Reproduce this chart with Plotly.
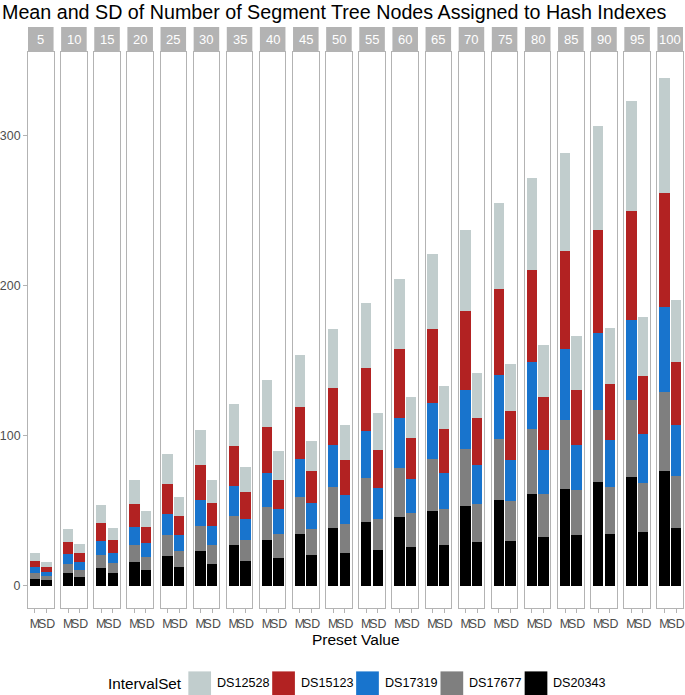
import plotly.graph_objects as go
from plotly.subplots import make_subplots

# ---------------- data ----------------
presets = [5, 10, 15, 20, 25, 30, 35, 40, 45, 50, 55, 60, 65, 70, 75, 80, 85, 90, 95, 100]
stats = ["M", "SD"]
series_bottom_to_top = ["DS20343", "DS17677", "DS17319", "DS15123", "DS12528"]
legend_order = ["DS12528", "DS15123", "DS17319", "DS17677", "DS20343"]

mean_DS20343 = [4.7, 8.4, 12.0, 15.8, 19.7, 23.3, 27.1, 30.7, 34.8, 38.6, 42.3, 46.1, 49.9, 53.3, 57.2, 61.4, 64.8, 69.0, 72.7, 76.2]
mean_DS17677 = [3.5, 6.0, 8.6, 11.3, 13.8, 16.8, 19.4, 21.8, 24.2, 27.1, 29.7, 32.3, 34.6, 37.8, 40.6, 43.1, 45.8, 48.5, 51.2, 53.3]
mean_DS17319 = [4.0, 6.4, 9.3, 11.9, 14.6, 17.1, 20.1, 22.7, 25.3, 28.1, 31.3, 33.5, 37.1, 39.4, 42.5, 44.7, 47.5, 50.9, 53.3, 56.3]
mean_DS15123 = [4.4, 8.5, 12.0, 15.6, 19.8, 23.1, 26.9, 30.8, 34.6, 38.2, 42.2, 45.9, 49.4, 52.9, 57.4, 61.5, 64.9, 68.6, 72.6, 76.1]
mean_DS12528 = [4.9, 8.4, 12.2, 15.9, 19.7, 23.5, 27.4, 30.9, 35.1, 39.0, 42.8, 46.5, 50.2, 53.9, 57.7, 61.5, 65.4, 69.4, 73.3, 76.7]

sd_DS20343 = [3.5, 6.0, 8.4, 10.4, 12.4, 14.6, 16.3, 18.6, 20.2, 22.0, 23.7, 25.9, 27.1, 29.1, 30.1, 32.6, 34.1, 34.8, 36.1, 38.8]
sd_DS17677 = [2.7, 4.6, 6.9, 8.9, 10.4, 12.7, 14.2, 16.2, 17.3, 19.3, 20.9, 22.6, 23.9, 25.6, 26.6, 28.8, 29.5, 31.0, 32.4, 34.1]
sd_DS17319 = [2.7, 5.2, 6.7, 9.1, 10.9, 12.6, 14.2, 16.3, 17.7, 19.2, 20.8, 22.6, 24.4, 25.6, 26.8, 29.3, 30.3, 31.3, 32.5, 34.2]
sd_DS15123 = [3.5, 5.9, 8.4, 10.9, 13.1, 15.1, 17.5, 19.4, 21.1, 23.3, 25.3, 27.5, 29.1, 31.3, 32.7, 35.1, 36.8, 37.4, 39.1, 42.1]
sd_DS12528 = [3.4, 6.0, 8.2, 10.4, 12.4, 15.3, 17.2, 19.5, 20.5, 23.3, 24.8, 27.3, 28.8, 30.5, 31.8, 34.5, 35.7, 37.1, 38.9, 41.1]

y_ticks = [0, 100, 200, 300]

mean_values = {"DS20343": mean_DS20343, "DS17677": mean_DS17677, "DS17319": mean_DS17319,
               "DS15123": mean_DS15123, "DS12528": mean_DS12528}
sd_values = {"DS20343": sd_DS20343, "DS17677": sd_DS17677, "DS17319": sd_DS17319,
             "DS15123": sd_DS15123, "DS12528": sd_DS12528}
colors = {"DS12528": "#C1CDCD", "DS15123": "#B22222", "DS17319": "#1874CD",
          "DS17677": "#7F7F7F", "DS20343": "#000000"}

# ---------------- layout geometry ----------------
W, H = 685, 695
ML, MR, MT, MB = 27.3, 0, 52.3, 86.7
PW = W - ML - MR
PH = H - MT - MB
FONT = "Liberation Sans, Arial, Helvetica, sans-serif"
GREY70 = "#B3B3B3"
GREY30 = "#4D4D4D"

n = len(presets)
gap_px = 7.6
fig = make_subplots(rows=1, cols=n, shared_yaxes=True, horizontal_spacing=gap_px / PW)

for i in range(n):
    for s in series_bottom_to_top:
        fig.add_trace(
            go.Bar(
                x=stats,
                y=[mean_values[s][i], sd_values[s][i]],
                name=s,
                legendgroup=s,
                showlegend=False,
                width=0.9,
                marker=dict(color=colors[s], line=dict(width=0)),
            ),
            row=1, col=i + 1,
        )

fig.update_layout(
    barmode="stack",
    width=W, height=H, autosize=False,
    margin=dict(l=ML, r=MR, t=MT, b=MB, pad=0),
    paper_bgcolor="white", plot_bgcolor="white",
    font=dict(family=FONT, color="black"),
    showlegend=False,
    title=dict(text="Mean and SD of Number of Segment Tree Nodes Assigned to Hash Indexes",
               x=2 / W, xanchor="left", xref="container",
               y=1 - 12 / H, yanchor="middle", yref="container",
               font=dict(size=19.7, color="black", family=FONT)),
)

fig.update_xaxes(
    type="category", range=[-0.6, 1.6],
    tickmode="array", tickvals=stats, ticktext=stats, tickangle=0,
    showline=True, mirror=True, linecolor=GREY70, linewidth=1,
    showgrid=False, zeroline=False,
    ticks="outside", ticklen=4, tickwidth=1, tickcolor=GREY70,
    tickfont=dict(size=12.4, color=GREY30, family=FONT),
    fixedrange=True,
)
fig.update_yaxes(
    range=[-14.9, 356],
    showline=True, mirror=True, linecolor=GREY70, linewidth=1,
    showgrid=False, zeroline=False,
    ticks="", tickmode="array", tickvals=y_ticks,
    tickfont=dict(size=12.4, color=GREY30, family=FONT),
    fixedrange=True,
)
fig.update_yaxes(ticks="outside", ticklen=4, tickwidth=1, tickcolor=GREY70, row=1, col=1)

# facet strips
strip_h = 25.0 / PH
shapes = []
annotations = []
for i, p in enumerate(presets):
    xr = "x domain" if i == 0 else f"x{i + 1} domain"
    shapes.append(dict(type="rect", xref=xr, yref="paper", x0=0, x1=1, y0=1, y1=1 + strip_h,
                       fillcolor=GREY70, line=dict(width=0), layer="above"))
    annotations.append(dict(xref=xr, yref="paper", x=0.5, y=1 + strip_h / 2, text=str(p),
                            showarrow=False, xanchor="center", yanchor="middle",
                            font=dict(size=13, color="white", family=FONT)))

def px_x(px):
    return (px - ML) / PW

def px_y(py):
    return (H - MB - py) / PH

# x axis title
annotations.append(dict(xref="paper", yref="paper", x=0.5, y=px_y(640), text="Preset Value",
                        showarrow=False, xanchor="center", yanchor="middle",
                        font=dict(size=15.5, color="black", family=FONT)))

# legend (drawn as keys + labels)
annotations.append(dict(xref="paper", yref="paper", x=px_x(106.0), y=px_y(683.3), text="IntervalSet",
                        showarrow=False, xanchor="left", yanchor="middle",
                        font=dict(size=15.3, color="black", family=FONT)))
key_left = [188.3, 272.5, 356.8, 441.5, 526.0]
key_w = 22.8
for k, s in enumerate(legend_order):
    x0 = key_left[k]
    shapes.append(dict(type="rect", xref="paper", yref="paper",
                       x0=px_x(x0), x1=px_x(x0 + key_w), y0=px_y(695.5), y1=px_y(671.7),
                       fillcolor=colors[s], line=dict(width=0), layer="above"))
    annotations.append(dict(xref="paper", yref="paper", x=px_x(x0 + key_w + 3.8), y=px_y(683.3), text=s,
                            showarrow=False, xanchor="left", yanchor="middle",
                            font=dict(size=12.6, color="black", family=FONT)))

fig.update_layout(shapes=shapes, annotations=annotations)

fig.write_html("out.html",
               config={"displayModeBar": False, "staticPlot": True},
               post_script="document.body.style.margin='0';document.body.style.overflow='hidden';")
